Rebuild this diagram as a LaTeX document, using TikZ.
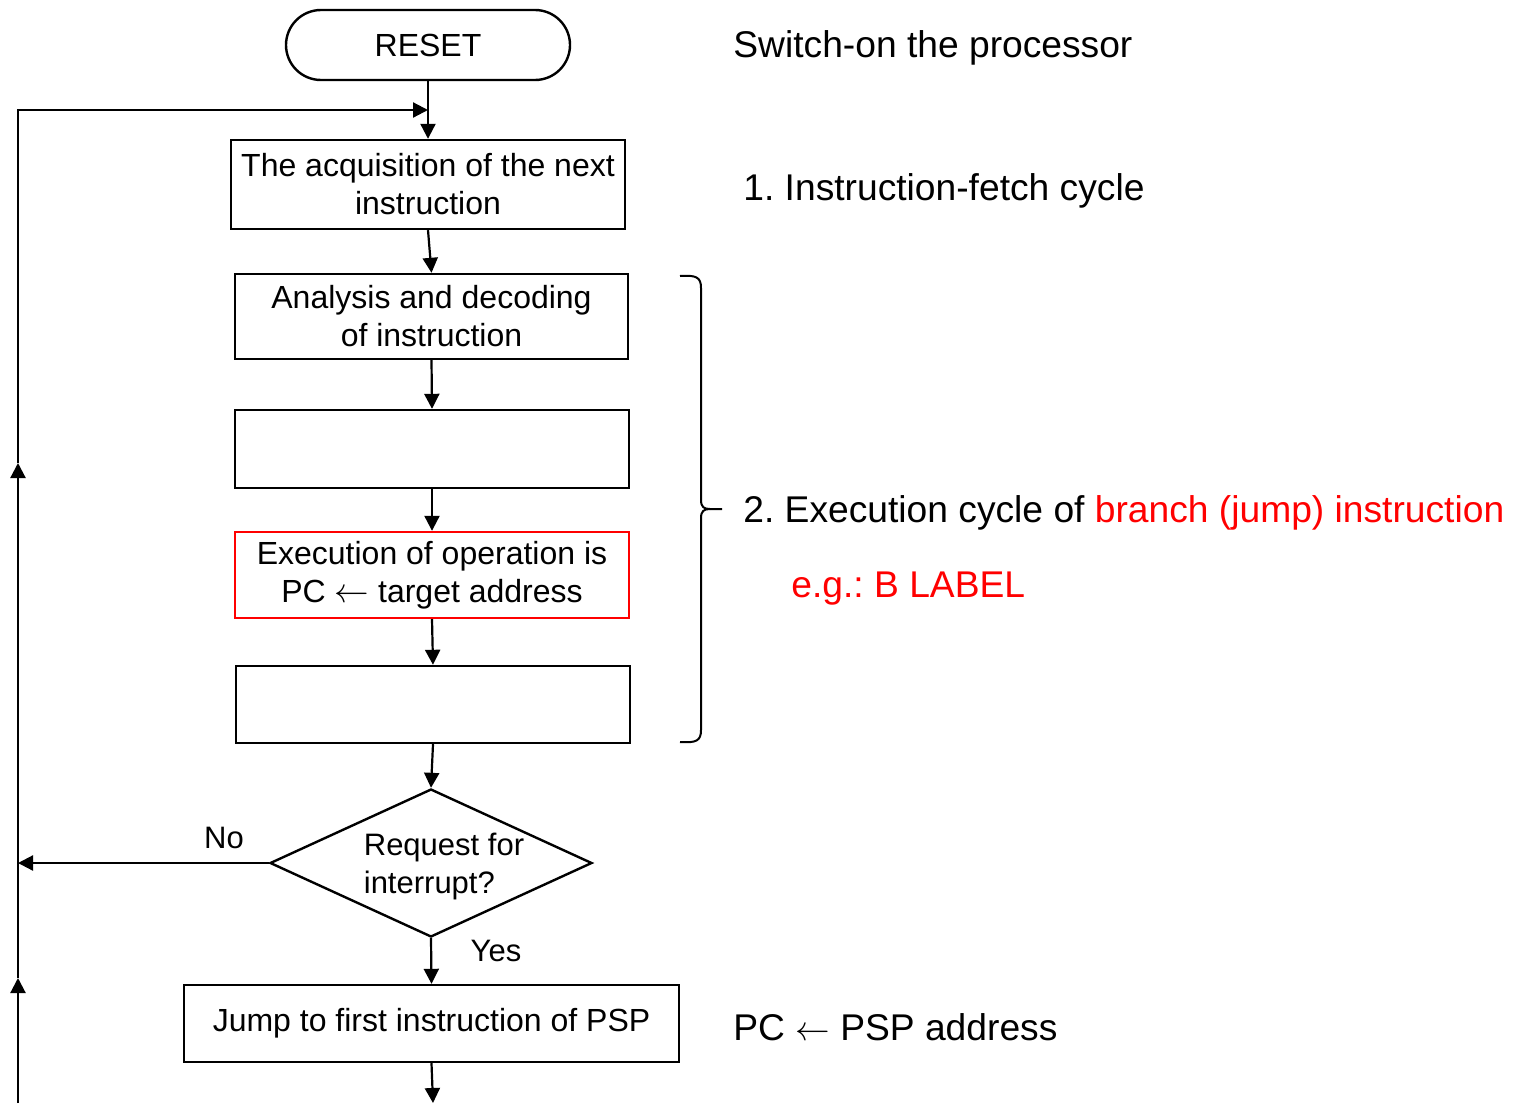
\documentclass[tikz,border=0pt]{standalone}
\usepackage{fontspec}
\setmainfont{Liberation Sans}
\frenchspacing
\usetikzlibrary{arrows.meta,shapes.geometric}
\definecolor{hired}{RGB}{255,0,0}
\tikzset{
  box/.style={draw, line width=1.2pt, inner sep=0pt, align=center,
    font=\fontsize{16pt}{19pt}\selectfont},
  arr/.style={line width=1.1pt, -{Triangle[length=7.5pt,width=7.5pt]}},
  plain/.style={line width=1pt},
  note/.style={anchor=west, inner sep=0pt, font=\fontsize{18.6pt}{22pt}\selectfont},
  small/.style={inner sep=0pt, font=\fontsize{15.5pt}{19pt}\selectfont}
}
\begin{document}
\begin{tikzpicture}[x=0.5pt,y=-0.5pt]
\useasboundingbox (0,0) rectangle (1518,1103);

% flow chart boxes
\node[box, rounded corners=17.5pt, minimum width=142pt, minimum height=35pt] (reset) at (428,45) {RESET};
\node[box, minimum width=197pt, minimum height=44.5pt] (fetch) at (428,184.5) {The acquisition of the next\\instruction};
\node[box, minimum width=196.5pt, minimum height=42.5pt] (decode) at (431.5,316.5) {Analysis and decoding\\of instruction};
\node[box, minimum width=197pt, minimum height=39pt] (exA) at (432,449) {};
\node[box, draw=hired, minimum width=197pt, minimum height=43pt] (exB) at (432,575) {Execution of operation is\\PC $\leftarrow$ target address};
\node[box, minimum width=197pt, minimum height=38.5pt] (exC) at (433,704.5) {};
\node[diamond, draw, line width=1.2pt, inner sep=0pt, minimum width=161pt, minimum height=74pt] (irq) at (431,863) {};
\node[small, align=left] (irqtext) at (444,866) {Request for\\interrupt?};
\node[box, minimum width=247.5pt, minimum height=38.5pt] (psp) at (431.5,1023.5) {Jump to first instruction of PSP};

% loop-back path coordinates
\coordinate (join) at (428,110);
\coordinate (Ltop) at (18,110);
\coordinate (Lup) at (18,463);
\coordinate (Lno) at (18,863);
\coordinate (Llow) at (18,978);
\coordinate (Lbot) at (18,1103);
\coordinate (out) at (433,1103);

% connectors
\draw[arr] (reset.south) -- (fetch.north);
\draw[arr] (fetch.south) -- (decode.north);
\draw[arr] (decode.south) -- (exA.north);
\draw[arr] (exA.south) -- (exB.north);
\draw[arr] (exB.south) -- (exC.north);
\draw[arr] (exC.south) -- (irq.north);
\draw[arr] (irq.south) -- (psp.north);
\draw[arr] (psp.south) -- (out);
\draw[arr] (irq.west) -- (Lno);
\draw[arr] (Lbot) -- (Llow);
\draw[arr] (Llow) -- (Lup);
\draw[arr] (Lup) -- (Ltop) -- (join);

% branch labels
\node[small] (no) at (224,838) {No};
\node[small] (yes) at (496,951) {Yes};

% brace grouping the execution cycle
\draw[plain] (680,276) .. controls (696,275) and (701,277) .. (701,288)
  -- (701,500) .. controls (701,507) and (704,509) .. (710,509) -- (722,509);
\draw[plain] (710,509) .. controls (704,509) and (701,511) .. (701,518)
  -- (701,730) .. controls (701,741) and (696,743) .. (680,742);

% annotations
\node[note] (n0) at (733,48) {Switch-on the processor};
\node[note] (n1) at (743,191) {1. Instruction-fetch cycle};
\node[note] (n2) at (743,513) {2. Execution cycle of \textcolor{hired}{branch (jump) instruction}};
\node[note, text=hired] (n3) at (791,589) {e.g.: B LABEL};
\node[note] (n4) at (733,1027) {PC $\leftarrow$ PSP address};
\end{tikzpicture}
\end{document}
